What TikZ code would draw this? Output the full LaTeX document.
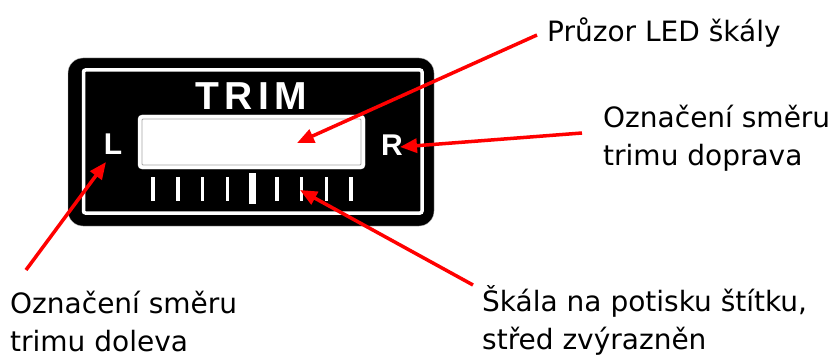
\documentclass[tikz,border=0pt]{standalone}
\usepackage{fontspec}
\setmainfont{DejaVu Sans}
\newfontfamily\panelfont[LetterSpace=14]{Liberation Sans Bold}
\newfontfamily\lrfont{Liberation Sans Bold}
\usetikzlibrary{arrows.meta}
\tikzset{
  callout/.style={red, line width=3.5pt, -{Triangle[length=17pt,width=14pt]}},
  label/.style={anchor=base west, align=left, inner sep=0pt, font=\fontsize{28}{38}\selectfont},
  tick/.style={white, line width=3.5pt}
}
\begin{document}
\begin{tikzpicture}[x=1pt, y=-1pt]
\useasboundingbox (0,0) rectangle (834,358);

% panel
\draw[fill=black, draw=gray!60, rounded corners=15pt] (68,58) rectangle (434,226);
\draw[white, line width=3.5pt, rounded corners=2pt] (83.5,70) rectangle (422,213);
\draw[fill=white, draw=white, rounded corners=4pt] (138,115) rectangle (365,169);
\draw[gray!70, line width=0.8pt, rounded corners=1pt] (142,119) rectangle (361,165);
\node (trim) at (195,110)[anchor=base west, inner sep=0pt, white, font=\panelfont\fontsize{39}{39}\selectfont]{TRIM};
\node (L) at (113,144)[white, inner sep=0pt, font=\lrfont\fontsize{30}{30}\selectfont]{L};
\node (R) at (392,145)[white, inner sep=0pt, font=\lrfont\fontsize{30}{30}\selectfont]{R};
\foreach \i in {0,1,2,3,5,6,7,8}
  \draw[tick](153+24.75*\i,177)--(153+24.75*\i,201);
\draw[white, line width=7pt](252,173)--(252,204);

% labels (base = last line)
\node (window) at (547,42)[label]{Průzor LED škály};
\node (right) at (603,165)[label]{Označení směru\\trimu doprava};
\node (left) at (10,351)[label]{Označení směru\\trimu doleva};
\node (scale) at (482,349)[label]{Škála na potisku štítku,\\střed zvýrazněn};

\coordinate (windowtip) at (297,143);
\coordinate (windowfrom) at (537,35);
\coordinate (righttip) at (400,147);
\coordinate (rightfrom) at (582,133);
\coordinate (lefttip) at (106,162);
\coordinate (leftfrom) at (26,270);
\coordinate (scaletip) at (300,190);
\coordinate (scalefrom) at (473,285);

\draw[callout](windowfrom)--(windowtip);
\draw[callout](rightfrom)--(righttip);
\draw[callout](leftfrom)--(lefttip);
\draw[callout](scalefrom)--(scaletip);

\end{tikzpicture}
\end{document}
